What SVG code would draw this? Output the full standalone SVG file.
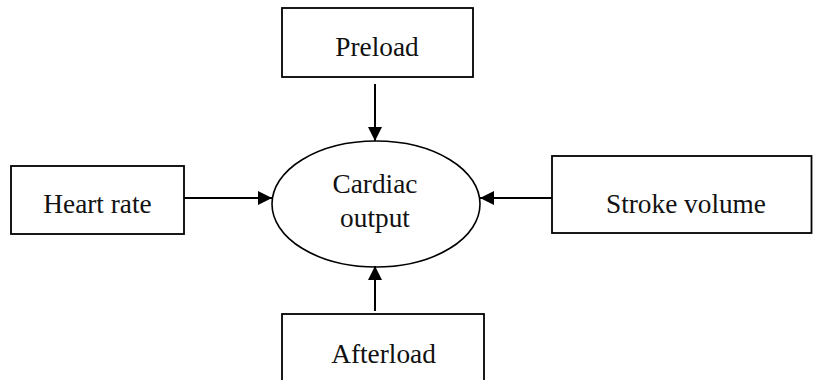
<svg xmlns="http://www.w3.org/2000/svg" width="813" height="380" viewBox="0 0 813 380">
<style>
.box{fill:#fff;stroke:#000;stroke-width:1.8}
.ell{fill:#fff;stroke:#000;stroke-width:1.6}
.lbl{font-family:"Liberation Serif","Times New Roman",serif;font-size:27.3px;fill:#111;text-anchor:middle}
.con{stroke:#000;stroke-width:2;fill:none;marker-end:url(#ah)}
</style>
<defs>
<marker id="ah" markerUnits="userSpaceOnUse" markerWidth="14" markerHeight="14" viewBox="0 0 14 14" refX="14" refY="7" orient="auto">
<path d="M0,0 L14,7 L0,14 Z" fill="#000"/>
</marker>
</defs>
<rect width="813" height="380" fill="#fff"/>
<g id="preload"><rect class="box" x="282" y="8" width="191" height="69"/><text class="lbl" x="377" y="55.5">Preload</text></g>
<g id="heart-rate"><rect class="box" x="11" y="166" width="173" height="68"/><text class="lbl" x="97.5" y="213">Heart rate</text></g>
<g id="stroke-volume"><rect class="box" x="552" y="156" width="259.5" height="77"/><text class="lbl" x="686" y="213">Stroke volume</text></g>
<g id="afterload"><rect class="box" x="282" y="314" width="202" height="80"/><text class="lbl" x="383.5" y="363">Afterload</text></g>
<g id="cardiac-output"><ellipse class="ell" cx="376" cy="204" rx="104" ry="63"/><text class="lbl" x="375" y="193">Cardiac</text><text class="lbl" x="375" y="227">output</text></g>
<g id="connectors">
<line class="con" x1="375" y1="84" x2="375" y2="141"/>
<line class="con" x1="184" y1="198" x2="272" y2="198"/>
<line class="con" x1="552" y1="198" x2="480" y2="198"/>
<line class="con" x1="375" y1="311" x2="375" y2="266"/>
</g>
</svg>
